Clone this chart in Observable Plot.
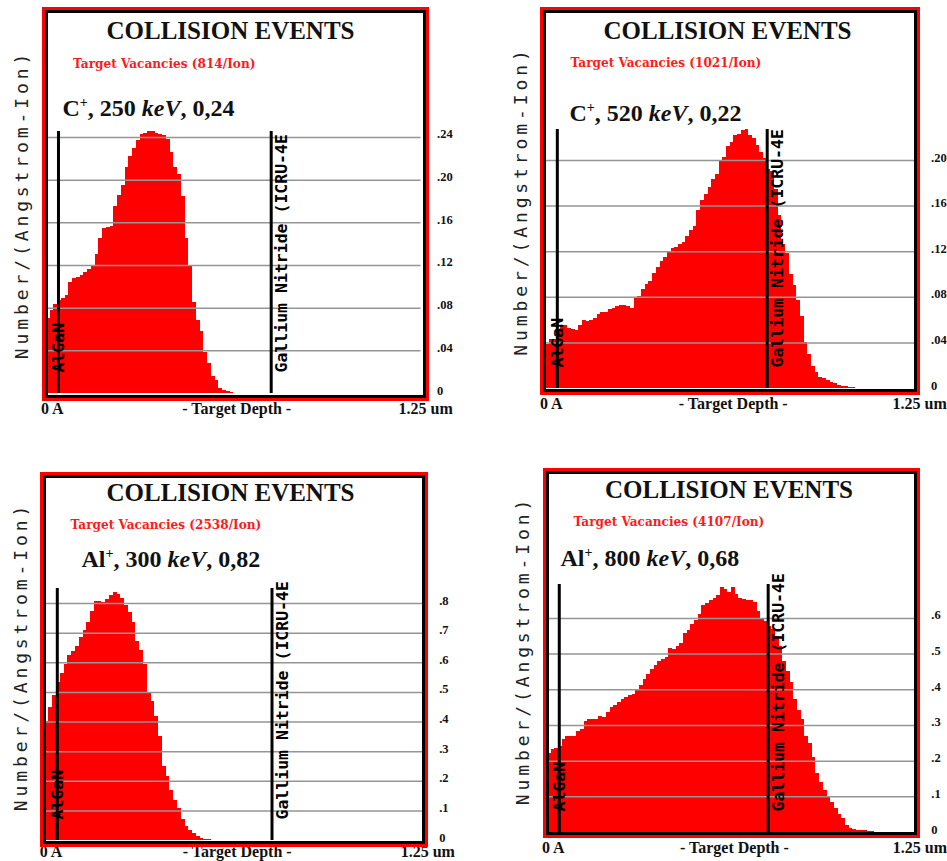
<!DOCTYPE html>
<html>
<head>
<meta charset="utf-8">
<script src="https://cdn.jsdelivr.net/npm/d3@7"></script>
<script src="https://cdn.jsdelivr.net/npm/@observablehq/plot@0.6"></script>
<style>
  html, body { margin: 0; padding: 0; background: #fff; overflow: hidden; }
  #page { position: relative; width: 947px; height: 861px; }
  #page svg { position: absolute; left: 0; top: 0; }
  .frame { position: absolute; box-sizing: border-box; border: 3px solid #ff0000; pointer-events: none; }
  .frame > div { position: absolute; inset: 0; box-sizing: border-box; border: 3.5px solid #000; }
</style>
</head>
<body>
<div id="page"></div>
<script>
// Depth histogram: 100 bins of 125 Å across 0 … 1.25 µm
const depthStep = 0.0125;
const depthMax = 1.25;

// Layer boundaries of the target (µm) and their names
const layerEdges = [0.04, 0.75];
const layerNames = ["AlGaN", "Gallium Nitride (ICRU-4E"];

// Vacancies per (Å·ion), one value per depth bin
const c250 = [
  0.070, 0.078, 0.083, 0.087, 0.089, 0.092, 0.104, 0.108, 0.109, 0.111,
  0.113, 0.116, 0.120, 0.130, 0.145, 0.155, 0.156, 0.157, 0.175, 0.186,
  0.195, 0.212, 0.222, 0.230, 0.237, 0.243, 0.244, 0.246, 0.246, 0.244,
  0.243, 0.242, 0.238, 0.226, 0.212, 0.205, 0.185, 0.145, 0.120, 0.085,
  0.068, 0.058, 0.038, 0.028, 0.016, 0.012, 0.005, 0.003, 0.0015, 0.0008,
  0.0004, 0, 0, 0, 0, 0, 0, 0, 0, 0,
  0, 0, 0, 0, 0, 0, 0, 0, 0, 0,
  0, 0, 0, 0, 0, 0, 0, 0, 0, 0,
  0, 0, 0, 0, 0, 0, 0, 0, 0, 0,
  0, 0, 0, 0, 0, 0, 0, 0, 0, 0
];
const c520 = [
  0.039, 0.043, 0.043, 0.052, 0.055, 0.055, 0.053, 0.052, 0.051, 0.055,
  0.060, 0.059, 0.060, 0.061, 0.065, 0.067, 0.067, 0.069, 0.070, 0.072,
  0.073, 0.073, 0.072, 0.070, 0.079, 0.081, 0.087, 0.091, 0.094, 0.101,
  0.106, 0.111, 0.115, 0.119, 0.123, 0.124, 0.126, 0.128, 0.133, 0.139,
  0.142, 0.156, 0.165, 0.170, 0.176, 0.183, 0.188, 0.199, 0.203, 0.212,
  0.216, 0.222, 0.223, 0.226, 0.227, 0.222, 0.219, 0.213, 0.207, 0.202,
  0.192, 0.190, 0.175, 0.152, 0.126, 0.118, 0.100, 0.090, 0.077, 0.063,
  0.040, 0.030, 0.019, 0.014, 0.010, 0.009, 0.007, 0.005, 0.004, 0.003,
  0.002, 0.0015, 0.001, 0.0005, 0, 0, 0, 0, 0, 0,
  0, 0, 0, 0, 0, 0, 0, 0, 0, 0
];
const al300 = [
  0.402, 0.450, 0.490, 0.535, 0.565, 0.595, 0.625, 0.638, 0.655, 0.685,
  0.710, 0.735, 0.775, 0.807, 0.808, 0.804, 0.815, 0.829, 0.838, 0.830,
  0.818, 0.795, 0.770, 0.735, 0.672, 0.643, 0.595, 0.495, 0.470, 0.420,
  0.350, 0.250, 0.215, 0.170, 0.135, 0.108, 0.072, 0.048, 0.034, 0.025,
  0.013, 0.008, 0.004, 0.002, 0.001, 0, 0, 0, 0, 0,
  0, 0, 0, 0, 0, 0, 0, 0, 0, 0,
  0, 0, 0, 0, 0, 0, 0, 0, 0, 0,
  0, 0, 0, 0, 0, 0, 0, 0, 0, 0,
  0, 0, 0, 0, 0, 0, 0, 0, 0, 0,
  0, 0, 0, 0, 0, 0, 0, 0, 0, 0
];
const al800 = [
  0.220, 0.232, 0.236, 0.240, 0.262, 0.269, 0.269, 0.269, 0.282, 0.290,
  0.310, 0.318, 0.318, 0.318, 0.325, 0.323, 0.335, 0.350, 0.357, 0.364,
  0.372, 0.378, 0.384, 0.388, 0.400, 0.411, 0.430, 0.444, 0.458, 0.468,
  0.478, 0.486, 0.491, 0.517, 0.514, 0.520, 0.530, 0.558, 0.566, 0.584,
  0.594, 0.610, 0.636, 0.643, 0.651, 0.656, 0.664, 0.686, 0.682, 0.673,
  0.687, 0.668, 0.657, 0.652, 0.650, 0.650, 0.645, 0.620, 0.598, 0.590,
  0.578, 0.570, 0.550, 0.520, 0.480, 0.450, 0.420, 0.374, 0.341, 0.318,
  0.270, 0.250, 0.210, 0.165, 0.140, 0.118, 0.099, 0.085, 0.066, 0.050,
  0.040, 0.020, 0.012, 0.008, 0.007, 0.006, 0.005, 0.004, 0.003, 0.001,
  0, 0, 0, 0, 0, 0, 0, 0, 0, 0
];
const series = [c250, c520, al300, al800];

// Panel annotations
const ions = ["C", "C", "Al", "Al"];
const energies = [250, 520, 300, 800];          // keV
const peakLabels = ["0,24", "0,22", "0,82", "0,68"];
const vacanciesPerIon = [814, 1021, 2538, 4107];

// Vertical axis of each panel
const yMax = [0.2456, 0.2272, 0.851, 0.695];
const yTicks = [
  [0, 0.04, 0.08, 0.12, 0.16, 0.20, 0.24],
  [0, 0.04, 0.08, 0.12, 0.16, 0.20],
  [0, 0.1, 0.2, 0.3, 0.4, 0.5, 0.6, 0.7, 0.8],
  [0, 0.1, 0.2, 0.3, 0.4, 0.5, 0.6]
];
const yTickLabels = [
  ["0", ".04", ".08", ".12", ".16", ".20", ".24"],
  ["0", ".04", ".08", ".12", ".16", ".20"],
  ["0", ".1", ".2", ".3", ".4", ".5", ".6", ".7", ".8"],
  ["0", ".1", ".2", ".3", ".4", ".5", ".6"]
];

const chartTitle = "COLLISION EVENTS";
const yLabel = "Number/(Angstrom-Ion)";
const xLabels = ["0 A", "- Target Depth -", "1.25 um"];

// Page geometry of the four panels (px): plot area, outer box, text anchors
const layout = [
  {x0: 46,   x1: 420.5, top: 131, bottom: 393, box: [41.5, 7, 428.5, 400.5],   title: [230, 38],    vac: [72.5, 67],  ion: [62, 115],  xDy: 20},
  {x0: 545,  x1: 914.5, top: 129, bottom: 388, box: [540, 7.3, 920, 395],      title: [727, 38],    vac: [570, 66.5], ion: [569, 120], xDy: 20},
  {x0: 44.7, x1: 422.7, top: 588, bottom: 840, box: [40, 471.7, 428.3, 846.7], title: [230, 500],   vac: [70, 528],   ion: [81, 566],  xDy: 16.5},
  {x0: 547,  x1: 914.8, top: 584, bottom: 832, box: [543.3, 468.3, 920, 838.3], title: [728.5, 497], vac: [573, 525], ion: [560, 565], xDy: 20}
];

const W = 947, H = 861;
const page = document.getElementById("page");
const serif = "'Liberation Serif', 'Times New Roman', serif";
const wideSerif = "'DejaVu Serif', serif";
const mono = "'DejaVu Sans Mono', monospace";

series.forEach((values, i) => {
  const L = layout[i];
  const bins = values.map((v, k) => ({x1: k * depthStep, x2: (k + 1) * depthStep, v}));
  const ticks = yTicks[i].map((t, k) => ({t, label: yTickLabels[i][k]}));
  const ionText = `${ions[i]}+, ${energies[i]} keV, ${peakLabels[i]}`;
  const vacText = `Target Vacancies (${vacanciesPerIon[i]}/Ion)`;

  const svg = Plot.plot({
    width: W,
    height: H,
    marginLeft: L.x0,
    marginRight: W - L.x1,
    marginTop: L.top,
    marginBottom: H - L.bottom,
    style: {background: "transparent", overflow: "visible"},
    x: {domain: [0, depthMax], axis: null},
    y: {domain: [0, yMax[i]], axis: null},
    marks: [
      // vacancy histogram
      Plot.rect(bins, {x1: "x1", x2: "x2", y1: 0, y2: "v", fill: "#ff0000", shapeRendering: "crispEdges"}),
      // horizontal grid over the bars
      Plot.ruleY(yTicks[i].filter(t => t > 0), {stroke: "#959595", strokeWidth: 1.5}),
      // layer boundaries
      Plot.ruleX(layerEdges, {y1: 0, y2: yMax[i], stroke: "#000", strokeWidth: 3}),
      Plot.text([layerNames[0]], {x: () => layerEdges[0], frameAnchor: "bottom", text: d => d,
        rotate: -90, textAnchor: "start", lineAnchor: "bottom", dx: 6, dy: -21,
        fontFamily: mono, fontWeight: "bold", fontSize: 16.5, fill: "#000"}),
      Plot.text([layerNames[1]], {x: () => layerEdges[1], frameAnchor: "bottom", text: d => d,
        rotate: -90, textAnchor: "start", lineAnchor: "bottom", dx: 16, dy: -21,
        fontFamily: mono, fontWeight: "bold", fontSize: 16.5, fill: "#000"}),
      // right-hand tick labels
      Plot.text(ticks, {y: "t", text: "label", frameAnchor: "right", dx: 16, dy: -3,
        textAnchor: "start", lineAnchor: "middle",
        fontFamily: serif, fontWeight: "bold", fontSize: 12.5, fill: "#111"}),
      // depth axis labels
      Plot.text([xLabels[0]], {x: () => 0, frameAnchor: "bottom", text: d => d, dx: -5.5, dy: L.xDy,
        textAnchor: "start", lineAnchor: "bottom", fontFamily: serif, fontWeight: "bold", fontSize: 16, fill: "#111"}),
      Plot.text([xLabels[1]], {x: () => depthMax / 2, frameAnchor: "bottom", text: d => d, dx: 3, dy: L.xDy,
        textAnchor: "middle", lineAnchor: "bottom", fontFamily: serif, fontWeight: "bold", fontSize: 16, fill: "#111"}),
      Plot.text([xLabels[2]], {x: () => depthMax, frameAnchor: "bottom", text: d => d, dx: -22.5, dy: L.xDy,
        textAnchor: "start", lineAnchor: "bottom", fontFamily: serif, fontWeight: "bold", fontSize: 16, fill: "#111"}),
      // vertical axis title
      Plot.text([yLabel], {frameAnchor: "left", text: d => d, rotate: -90, dx: -24, dy: -58,
        textAnchor: "middle", lineAnchor: "middle", fontFamily: mono, fontSize: 18, fill: "#222"}),
      // panel headings
      Plot.text([chartTitle], {frameAnchor: "top-left", text: d => d,
        dx: L.title[0] - L.x0, dy: L.title[1] - L.top, textAnchor: "middle", lineAnchor: "bottom",
        fontFamily: serif, fontWeight: "bold", fontSize: 25, fill: "#111"}),
      Plot.text([vacText], {frameAnchor: "top-left", text: d => d,
        dx: L.vac[0] - L.x0, dy: L.vac[1] - L.top, textAnchor: "start", lineAnchor: "bottom",
        fontFamily: wideSerif, fontWeight: "bold", fontSize: 12.1, fill: "#ff1a1a"}),
      Plot.text([ionText], {frameAnchor: "top-left", text: d => d,
        dx: L.ion[0] - L.x0, dy: L.ion[1] - L.top, textAnchor: "start", lineAnchor: "bottom",
        fontFamily: serif, fontWeight: "bold", fontSize: 24, fill: "#111"})
    ]
  });

  const root = d3.select(svg);
  // spaced lettering of the vertical title
  root.selectAll("text").filter(function() { return this.textContent === yLabel; })
    .attr("letter-spacing", 3.9);
  // ion label: superscript charge and italic unit
  root.selectAll("text").filter(function() { return this.textContent === ionText; })
    .each(function() {
      const t = d3.select(this).text(null);
      t.append("tspan").text(ions[i]);
      t.append("tspan").attr("dy", -9).attr("font-size", 14).text("+");
      t.append("tspan").attr("dy", 9).text(`, ${energies[i]} `);
      t.append("tspan").attr("font-style", "italic").text("keV");
      t.append("tspan").text(`, ${peakLabels[i]}`);
    });

  page.appendChild(svg);
});

// red outer and black inner panel borders
layout.forEach(L => {
  const [l, t, r, b] = L.box;
  const f = document.createElement("div");
  f.className = "frame";
  Object.assign(f.style, {left: l + "px", top: t + "px", width: (r - l) + "px", height: (b - t) + "px"});
  f.appendChild(document.createElement("div"));
  page.appendChild(f);
});
</script>
</body>
</html>
